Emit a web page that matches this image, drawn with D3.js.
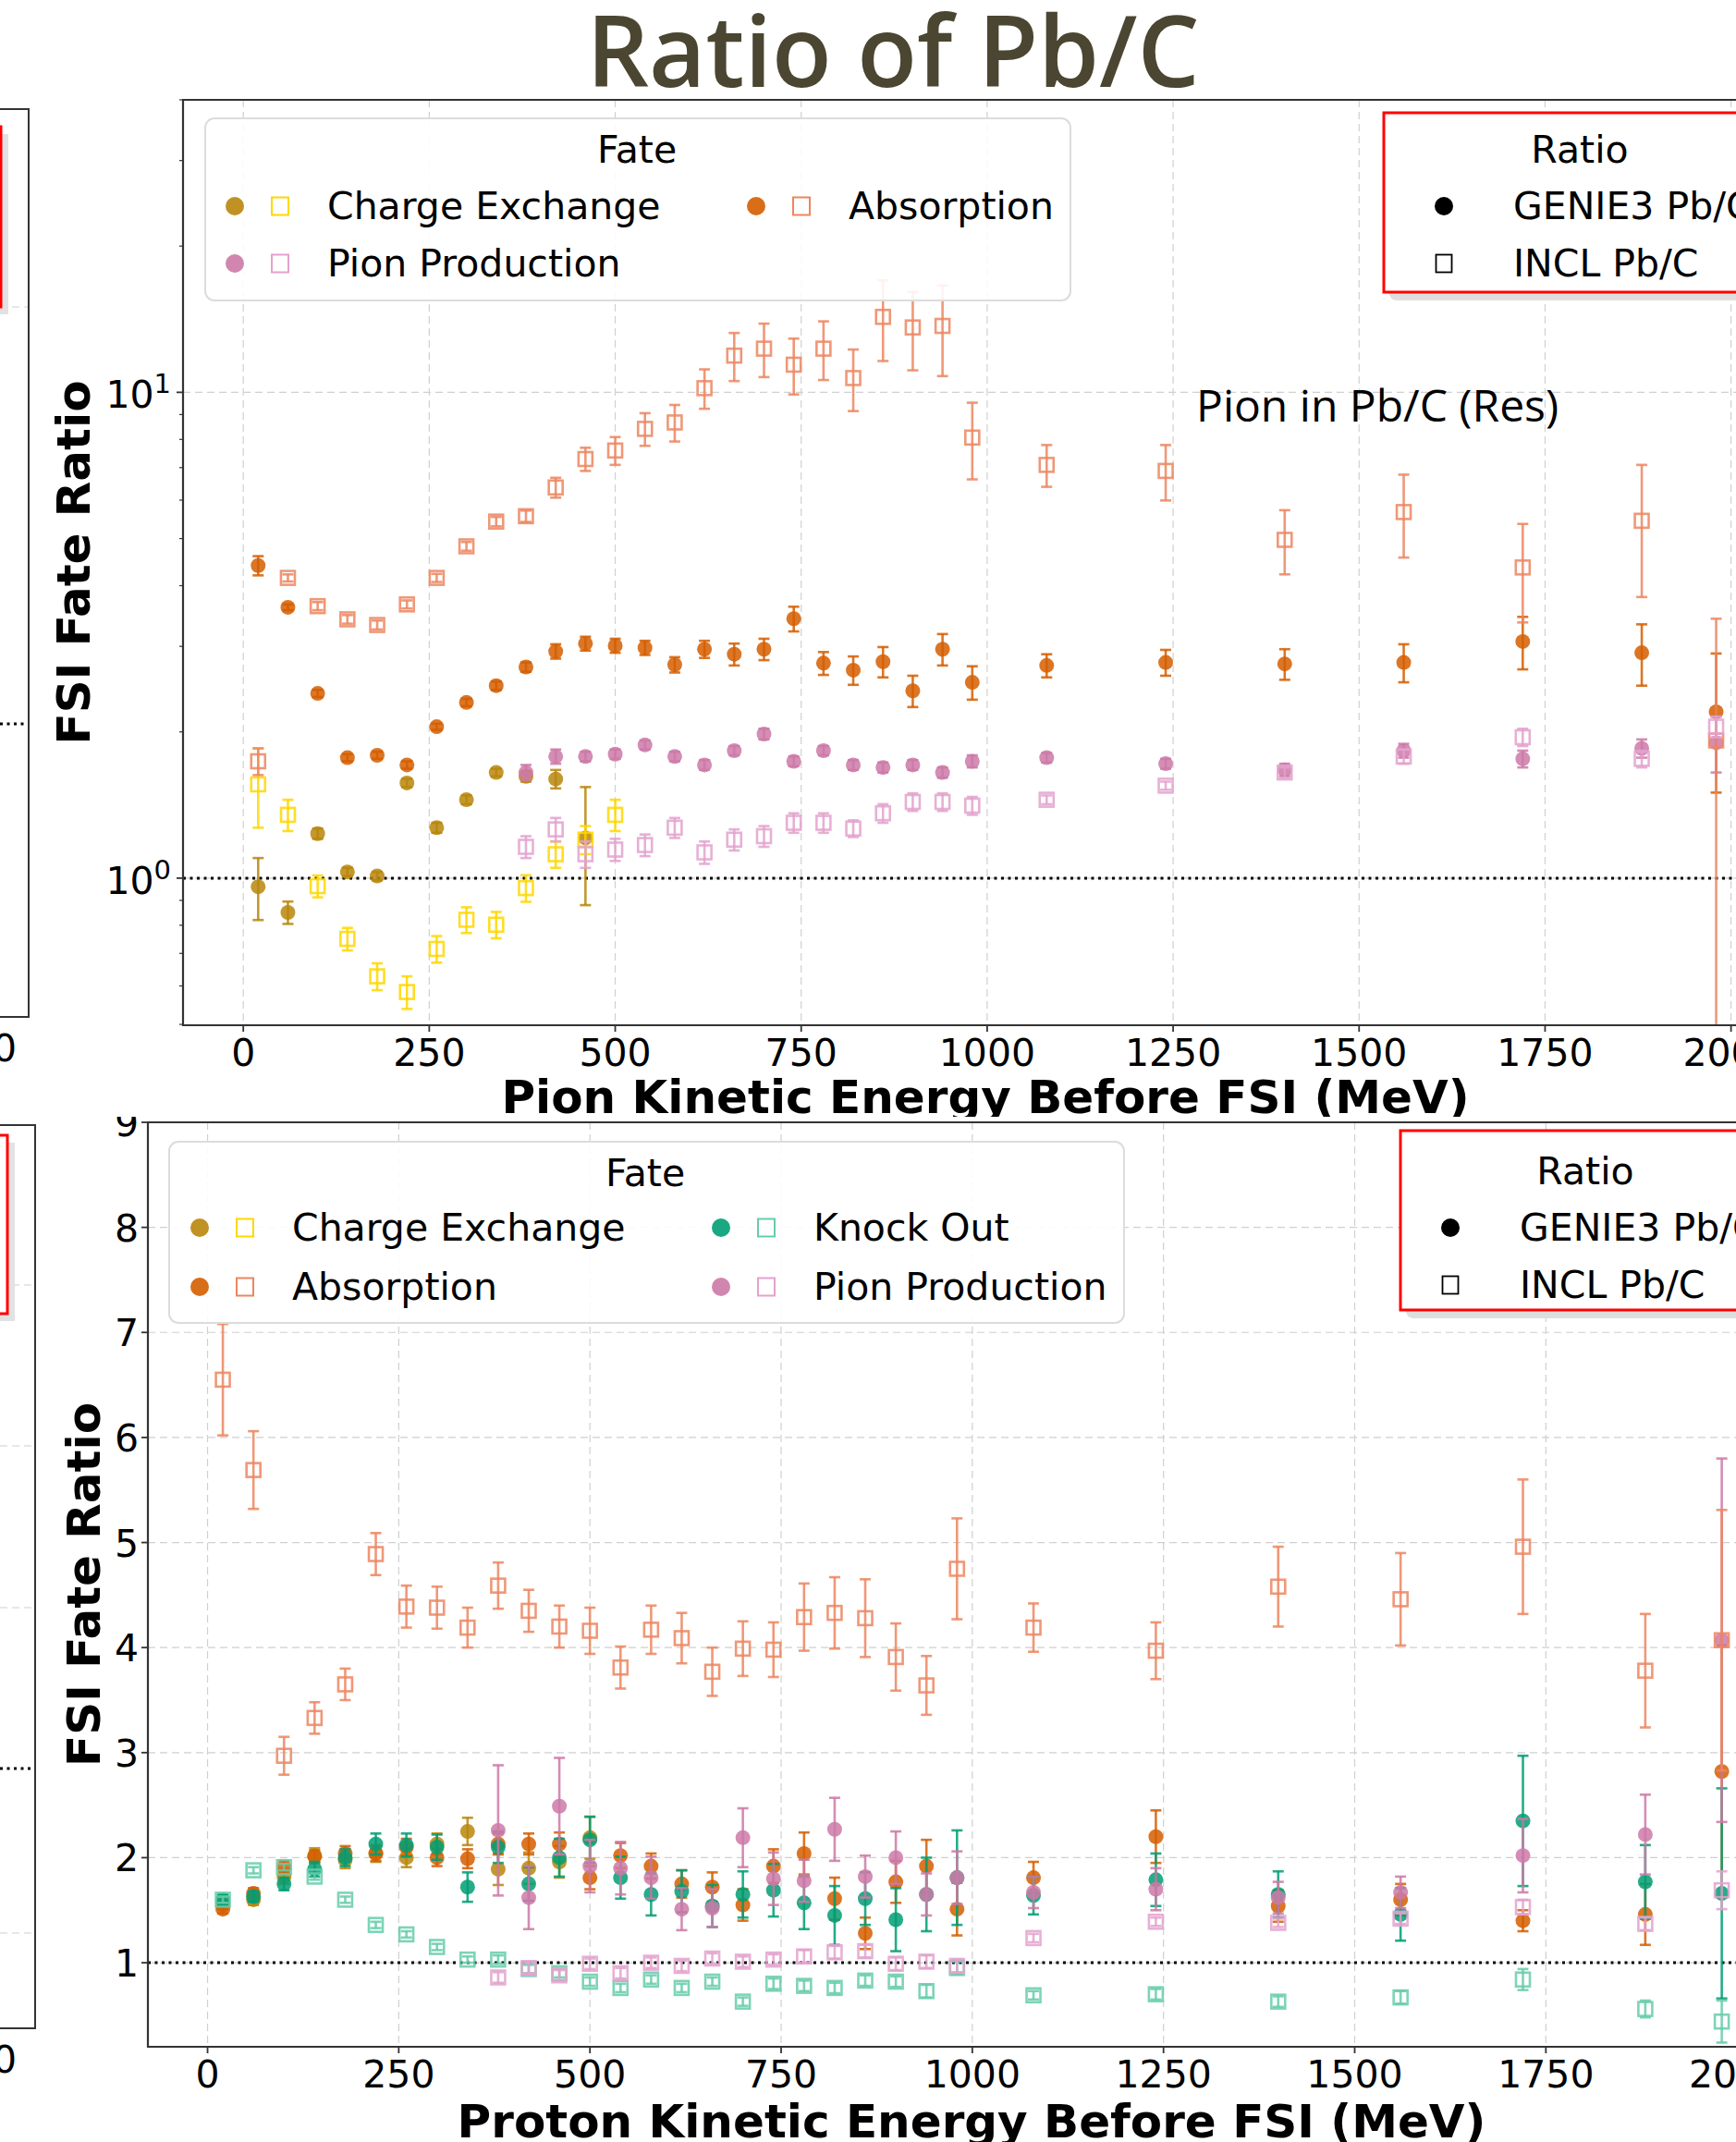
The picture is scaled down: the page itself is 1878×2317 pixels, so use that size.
<!DOCTYPE html>
<html>
<head>
<meta charset="utf-8">
<script src="https://cdn.jsdelivr.net/npm/d3@7.9.0/dist/d3.min.js"></script>
<style>
  body { margin: 0; background: #fff; }
  svg { display: block; }
  text { font-family: "DejaVu Sans", sans-serif; }
</style>
</head>
<body>
<svg id="chart" width="1878" height="2317"></svg>
<script>
// energy bins (MeV)
const pionE = [20, 60, 100, 140, 180, 220, 260, 300, 340, 380, 420, 460, 500, 540, 580, 620, 660, 700, 740, 780, 820, 860, 900, 940, 980, 1080, 1240, 1400, 1560, 1720, 1880, 1980];
const protonE = [20, 60, 100, 140, 180, 220, 260, 300, 340, 380, 420, 460, 500, 540, 580, 620, 660, 700, 740, 780, 820, 860, 900, 940, 980, 1080, 1240, 1400, 1560, 1720, 1880, 1980];

// pion (top, log axis)
const pionCexGenieE = pionE.slice(0, 12);
const pionCexGenie = [0.96, 0.85, 1.235, 1.03, 1.01, 1.57, 1.27, 1.45, 1.65, 1.62, 1.60, 1.21];
const pionCexGenieErr = [0.14, 0.045, 0.03, 0.02, 0.02, 0.03, 0.03, 0.03, 0.03, 0.04, 0.07, 0.33];
const pionCexInclE = pionE.slice(0, 13);
const pionCexIncl = [1.56, 1.35, 0.963, 0.75, 0.628, 0.583, 0.715, 0.821, 0.802, 0.954, 1.12, 1.20, 1.35];
const pionCexInclErr = [0.29, 0.1, 0.05, 0.04, 0.04, 0.045, 0.045, 0.05, 0.05, 0.06, 0.07, 0.08, 0.1];

const pionAbsGenie = [4.40, 3.61, 2.40, 1.77, 1.79, 1.71, 2.05, 2.30, 2.49, 2.72, 2.93, 3.04, 3.01, 2.98, 2.75, 2.96, 2.89, 2.96, 3.42, 2.77, 2.68, 2.79, 2.43, 2.96, 2.53, 2.74, 2.78, 2.76, 2.78, 3.07, 2.91, 2.20];
const pionAbsGenieErr = [0.2, 0.05, 0.04, 0.03, 0.03, 0.03, 0.03, 0.04, 0.05, 0.06, 0.1, 0.1, 0.1, 0.1, 0.1, 0.12, 0.15, 0.15, 0.2, 0.15, 0.18, 0.2, 0.18, 0.22, 0.2, 0.15, 0.17, 0.2, 0.25, 0.38, 0.42, 0.7];
const pionAbsIncl = [1.74, 4.15, 3.63, 3.41, 3.32, 3.66, 4.15, 4.82, 5.42, 5.56, 6.37, 7.29, 7.59, 8.41, 8.67, 10.2, 11.9, 12.3, 11.4, 12.3, 10.7, 14.3, 13.6, 13.7, 8.07, 7.09, 6.89, 4.97, 5.67, 4.36, 5.44, 1.92];
const pionAbsInclErr = [0.11, 0.07, 0.07, 0.07, 0.07, 0.07, 0.08, 0.1, 0.12, 0.15, 0.3, 0.4, 0.5, 0.65, 0.75, 0.95, 1.35, 1.55, 1.5, 1.7, 1.55, 2.7, 2.5, 2.9, 1.45, 0.7, 0.9, 0.75, 1.1, 1.0, 1.65, 1.5];

const pionPiProdE = pionE.slice(9);
const pionPiProdGenie = [1.65, 1.78, 1.78, 1.80, 1.88, 1.78, 1.71, 1.83, 1.98, 1.74, 1.83, 1.71, 1.69, 1.71, 1.65, 1.74, 1.77, 1.72, 1.67, 1.83, 1.76, 1.85, 1.90];
const pionPiProdGenieErr = [0.06, 0.06, 0.04, 0.04, 0.04, 0.04, 0.04, 0.04, 0.05, 0.04, 0.04, 0.04, 0.04, 0.04, 0.04, 0.05, 0.04, 0.04, 0.05, 0.06, 0.07, 0.08, 0.25];
const pionPiProdIncl = [1.16, 1.26, 1.12, 1.145, 1.17, 1.27, 1.13, 1.20, 1.22, 1.30, 1.30, 1.265, 1.36, 1.435, 1.435, 1.41, 1.45, 1.55, 1.65, 1.78, 1.95, 1.76, 2.05];
const pionPiProdInclErr = [0.06, 0.07, 0.07, 0.06, 0.06, 0.06, 0.06, 0.06, 0.06, 0.06, 0.06, 0.05, 0.06, 0.06, 0.06, 0.06, 0.03, 0.03, 0.04, 0.06, 0.08, 0.07, 0.1];

// proton (bottom, linear axis)
const protonCexE = protonE.slice(0, 13);
const protonCexGenie = [1.55, 1.6, 1.82, 2.02, 1.98, 2.04, 2.0, 2.13, 2.25, 1.89, 1.9, 1.96, 2.19];
const protonCexGenieErr = [0.04, 0.05, 0.07, 0.07, 0.08, 0.08, 0.09, 0.1, 0.13, 0.15, 0.15, 0.15, 0.2];

const protonAbsGenie = [1.51, 1.66, 1.91, 2.01, 2.04, 2.04, 2.10, 2.0, 1.99, 2.13, 2.13, 2.13, 1.81, 2.02, 1.92, 1.75, 1.72, 1.55, 1.92, 2.04, 1.61, 1.28, 1.77, 1.92, 1.51, 1.81, 2.20, 1.54, 1.60, 1.40, 1.46, 2.82];
const protonAbsGenieErr = [0.04, 0.05, 0.06, 0.06, 0.07, 0.07, 0.08, 0.08, 0.09, 0.1, 0.1, 0.11, 0.11, 0.12, 0.12, 0.13, 0.14, 0.15, 0.16, 0.2, 0.2, 0.15, 0.2, 0.25, 0.25, 0.15, 0.25, 0.15, 0.15, 0.1, 0.29, 1.2];
const protonAbsIncl = [6.55, 5.69, 2.97, 3.33, 3.65, 4.89, 4.39, 4.38, 4.19, 4.59, 4.35, 4.20, 4.16, 3.81, 4.17, 4.09, 3.77, 3.99, 3.98, 4.29, 4.33, 4.28, 3.91, 3.64, 4.75, 4.19, 3.97, 4.58, 4.46, 4.96, 3.78, 4.07];
const protonAbsInclErr = [0.53, 0.37, 0.18, 0.15, 0.15, 0.2, 0.2, 0.2, 0.19, 0.22, 0.2, 0.2, 0.22, 0.2, 0.23, 0.24, 0.23, 0.26, 0.26, 0.32, 0.34, 0.37, 0.32, 0.28, 0.48, 0.23, 0.27, 0.38, 0.44, 0.64, 0.54, 1.24];

const protonKoGenie = [1.6, 1.63, 1.75, 1.89, 2.0, 2.13, 2.12, 2.10, 1.72, 2.1, 1.75, 2.0, 2.17, 1.81, 1.65, 1.68, 1.54, 1.65, 1.69, 1.57, 1.45, 1.61, 1.41, 1.65, 1.81, 1.64, 1.79, 1.65, 1.46, 2.35, 1.77, 1.66];
const protonKoGenieErr = [0.05, 0.05, 0.06, 0.07, 0.08, 0.1, 0.11, 0.12, 0.14, 0.15, 0.16, 0.18, 0.22, 0.2, 0.2, 0.2, 0.2, 0.22, 0.25, 0.25, 0.28, 0.25, 0.3, 0.35, 0.45, 0.18, 0.25, 0.22, 0.25, 0.62, 0.35, 1.0];
const protonKoIncl = [1.6, 1.88, 1.91, 1.82, 1.60, 1.36, 1.27, 1.15, 1.03, 1.03, 0.94, 0.90, 0.82, 0.76, 0.84, 0.76, 0.82, 0.63, 0.80, 0.78, 0.76, 0.83, 0.82, 0.73, 0.95, 0.69, 0.70, 0.63, 0.67, 0.84, 0.56, 0.44];
const protonKoInclErr = [0.03, 0.03, 0.03, 0.03, 0.03, 0.03, 0.03, 0.03, 0.03, 0.04, 0.04, 0.04, 0.04, 0.04, 0.04, 0.04, 0.04, 0.04, 0.05, 0.05, 0.05, 0.05, 0.05, 0.06, 0.06, 0.04, 0.05, 0.05, 0.06, 0.1, 0.08, 0.2];

const protonPiProdE = protonE.slice(9);
const protonPiProdGenie = [2.26, 1.62, 2.49, 1.92, 1.90, 1.81, 1.51, 1.52, 2.19, 1.80, 1.78, 2.27, 1.82, 2.0, 1.65, 1.81, 1.67, 1.70, 1.62, 1.67, 2.02, 2.22, 4.07];
const protonPiProdGenieErr = [0.62, 0.3, 0.46, 0.25, 0.25, 0.2, 0.2, 0.18, 0.28, 0.25, 0.2, 0.3, 0.2, 0.25, 0.2, 0.25, 0.15, 0.2, 0.15, 0.15, 0.35, 0.38, 1.73];
const protonPiProdIncl = [0.86, 0.95, 0.88, 0.99, 0.90, 1.0, 0.97, 1.04, 1.01, 1.03, 1.06, 1.10, 1.11, 0.99, 1.01, 0.97, 1.235, 1.39, 1.38, 1.42, 1.53, 1.37, 1.69];
const protonPiProdInclErr = [0.05, 0.05, 0.05, 0.05, 0.05, 0.05, 0.05, 0.05, 0.05, 0.05, 0.06, 0.06, 0.06, 0.06, 0.06, 0.06, 0.04, 0.04, 0.04, 0.05, 0.07, 0.06, 0.18];

const xTicks = [0, 250, 500, 750, 1000, 1250, 1500, 1750, 2000];
const protonYTicks = [1, 2, 3, 4, 5, 6, 7, 8, 9];

const colors = {
  cex: { genie: '#B8860B', incl: '#FFD700' },
  abs: { genie: '#D55E00', incl: '#EC8660' },
  ko:  { genie: '#009E73', incl: '#66CDAA' },
  pi:  { genie: '#CC79A7', incl: '#E3A2CE' }
};

const W = 1878, H = 2317;
const svg = d3.select('#chart');
svg.append('rect').attr('width', W).attr('height', H).attr('fill', '#fff');

const defs = svg.append('defs');
function addClip(id, x, y, w, h) {
  defs.append('clipPath').attr('id', id)
    .append('rect').attr('x', x).attr('y', y).attr('width', w).attr('height', h);
}
addClip('topImg', 0, 0, W, 1208);
addClip('botImg', 0, 1208, W, H - 1208);

// title
svg.append('text')
  .attr('x', 966).attr('y', 94)
  .attr('text-anchor', 'middle')
  .style('font-family', '"Open Sans", sans-serif')
  .style('font-weight', 600)
  .style('font-size', '106px')
  .attr('fill', '#4B4631')
  .text('Ratio of Pb/C');

// pieces of neighbouring panels cut off at the left edge
function partialPanel(g, top, bottom, right, redTop, redBot, grids, dotY, zeroY) {
  grids.forEach(gy => {
    g.append('line').attr('x1', 0).attr('x2', right).attr('y1', gy).attr('y2', gy)
      .attr('stroke', '#d0d0d0').attr('stroke-width', 1.2).attr('stroke-dasharray', '8,5');
  });
  g.append('line').attr('x1', 0).attr('x2', right).attr('y1', dotY).attr('y2', dotY)
    .attr('stroke', '#000').attr('stroke-width', 3).attr('stroke-dasharray', '3,4.5');
  g.append('rect').attr('x', -10).attr('y', redTop + 8).attr('width', right - 12).attr('height', redBot - redTop)
    .attr('fill', '#e2e2e2');
  g.append('rect').attr('x', -10).attr('y', redTop).attr('width', right - 20).attr('height', redBot - redTop)
    .attr('fill', '#fff').attr('stroke', '#f00').attr('stroke-width', 3);
  g.append('path').attr('d', `M0,${top}H${right}V${bottom}H0`)
    .attr('fill', 'none').attr('stroke', '#333').attr('stroke-width', 2);
  g.append('text').attr('x', 5).attr('y', zeroY).attr('text-anchor', 'middle')
    .style('font-size', '41px').text('0');
}
partialPanel(svg.append('g').attr('clip-path', 'url(#topImg)'), 118, 1100, 31, 137, 332, [332], 783, 1148);
partialPanel(svg.append('g').attr('clip-path', 'url(#botImg)'), 1217, 2194, 38, 1228, 1421, [1390, 1564, 1739, 2091], 1913, 2242);

function drawSeries(g, x, y, xs, vals, errs, color, kind, yMin) {
  const pts = xs.map((e, i) => ({ e: e, v: vals[i], s: errs[i] }));
  const eb = g.append('g').attr('stroke', color).attr('stroke-opacity', 0.85).attr('stroke-width', 2.6);
  pts.forEach(p => {
    let lo = Math.max(p.v - p.s, yMin);
    let hi = p.v + p.s;
    let cx = x(p.e);
    eb.append('line').attr('x1', cx).attr('x2', cx).attr('y1', y(lo)).attr('y2', y(hi));
    eb.append('line').attr('x1', cx - 6).attr('x2', cx + 6).attr('y1', y(hi)).attr('y2', y(hi));
    if (p.v - p.s > yMin) {
      eb.append('line').attr('x1', cx - 6).attr('x2', cx + 6).attr('y1', y(lo)).attr('y2', y(lo));
    }
  });
  if (kind === 'genie') {
    g.selectAll(null).data(pts).join('circle')
      .attr('cx', d => x(d.e)).attr('cy', d => y(d.v)).attr('r', 8)
      .attr('fill', color).attr('fill-opacity', 0.85);
  } else {
    g.selectAll(null).data(pts).join('rect')
      .attr('x', d => x(d.e) - 7.5).attr('y', d => y(d.v) - 7.5)
      .attr('width', 15).attr('height', 15)
      .attr('fill', 'none').attr('stroke', color).attr('stroke-opacity', 0.85).attr('stroke-width', 2.6);
  }
}

function drawPanel(cfg) {
  const g = svg.append('g').attr('clip-path', `url(#${cfg.clip})`);
  const x = d3.scaleLinear().domain(cfg.xDomain).range([cfg.left, cfg.right]);
  const y = cfg.y;
  const plotId = cfg.clip + 'Plot';
  addClip(plotId, cfg.left, cfg.top, cfg.right - cfg.left, cfg.bottom - cfg.top);

  // grid
  const grid = g.append('g').attr('stroke', '#d0d0d0').attr('stroke-width', 1.2).attr('stroke-dasharray', '8,5');
  xTicks.forEach(t => grid.append('line').attr('x1', x(t)).attr('x2', x(t)).attr('y1', cfg.top).attr('y2', cfg.bottom));
  cfg.yGrid.forEach(t => grid.append('line').attr('x1', cfg.left).attr('x2', cfg.right).attr('y1', y(t)).attr('y2', y(t)));

  // reference line at ratio 1
  g.append('line').attr('x1', cfg.left).attr('x2', cfg.right).attr('y1', y(1)).attr('y2', y(1))
    .attr('stroke', '#000').attr('stroke-width', 3).attr('stroke-dasharray', '3,4.5');

  const data = g.append('g').attr('clip-path', `url(#${plotId})`);
  cfg.series.forEach(s => drawSeries(data, x, y, s[0], s[1], s[2], s[3], s[4], cfg.yMin));

  // spines
  g.append('path').attr('d', `M${W},${cfg.top}H${cfg.left}V${cfg.bottom}H${W}`)
    .attr('fill', 'none').attr('stroke', '#333').attr('stroke-width', 2.2);

  // x ticks
  xTicks.forEach(t => {
    g.append('line').attr('x1', x(t)).attr('x2', x(t)).attr('y1', cfg.bottom).attr('y2', cfg.bottom + 7)
      .attr('stroke', '#333').attr('stroke-width', 1.8);
    g.append('text').attr('x', x(t)).attr('y', cfg.bottom + 44).attr('text-anchor', 'middle')
      .style('font-size', '41px').text(t);
  });
  // y ticks
  cfg.yTicks.forEach(t => {
    g.append('line').attr('x1', cfg.left - 7).attr('x2', cfg.left).attr('y1', y(t)).attr('y2', y(t))
      .attr('stroke', '#333').attr('stroke-width', 1.8);
  });
  (cfg.yMinor || []).forEach(t => {
    g.append('line').attr('x1', cfg.left - 4).attr('x2', cfg.left).attr('y1', y(t)).attr('y2', y(t))
      .attr('stroke', '#333').attr('stroke-width', 1.2);
  });
  cfg.yLabels(g, y);

  g.append('text').attr('x', cfg.xLabelX).attr('y', cfg.xLabelY).attr('text-anchor', 'middle')
    .style('font-size', '50px').style('font-weight', 'bold').text(cfg.xLabel);
  g.append('text').attr('transform', `translate(${cfg.yLabelX},${(cfg.top + cfg.bottom) / 2}) rotate(-90)`)
    .attr('text-anchor', 'middle')
    .style('font-size', '50px').style('font-weight', 'bold').text('FSI Fate Ratio');
  return g;
}

function legendMarker(g, cx, cy, color, kind) {
  if (kind === 'genie') {
    g.append('circle').attr('cx', cx).attr('cy', cy).attr('r', 10).attr('fill', color).attr('fill-opacity', 0.9);
  } else {
    g.append('rect').attr('x', cx - 9).attr('y', cy - 9.5).attr('width', 18).attr('height', 19)
      .attr('fill', 'none').attr('stroke', color).attr('stroke-width', 2);
  }
}

function fateLegend(g, box, titleX, entries) {
  g.append('rect').attr('x', box[0]).attr('y', box[1]).attr('width', box[2] - box[0]).attr('height', box[3] - box[1])
    .attr('rx', 10).attr('fill', '#fff').attr('fill-opacity', 0.88).attr('stroke', '#dcdcdc').attr('stroke-width', 2);
  g.append('text').attr('x', titleX).attr('y', box[1] + 48).attr('text-anchor', 'middle')
    .style('font-size', '41px').text('Fate');
  entries.forEach(e => {
    legendMarker(g, e.x, e.y, colors[e.key].genie, 'genie');
    legendMarker(g, e.x + 49, e.y, colors[e.key].incl, 'incl');
    g.append('text').attr('x', e.x + 100).attr('y', e.y + 14).style('font-size', '41px').text(e.label);
  });
}

function ratioLegend(g, box, titleX, titleY, markX, rows) {
  g.append('rect').attr('x', box[0] + 6).attr('y', box[1] + 9).attr('width', 500).attr('height', box[2] - box[1])
    .attr('rx', 8).attr('fill', '#dedede');
  g.append('rect').attr('x', box[0]).attr('y', box[1]).attr('width', 500).attr('height', box[2] - box[1])
    .attr('fill', '#fff').attr('stroke', '#f00').attr('stroke-width', 3);
  g.append('text').attr('x', titleX).attr('y', titleY + 14).attr('text-anchor', 'middle')
    .style('font-size', '41px').text('Ratio');
  g.append('circle').attr('cx', markX).attr('cy', rows[0]).attr('r', 10).attr('fill', '#000');
  g.append('rect').attr('x', markX - 8.5).attr('y', rows[1] - 9.5).attr('width', 17).attr('height', 19)
    .attr('fill', 'none').attr('stroke', '#000').attr('stroke-width', 1.8);
  g.append('text').attr('x', markX + 75).attr('y', rows[0] + 14).style('font-size', '41px').text('GENIE3 Pb/C');
  g.append('text').attr('x', markX + 75).attr('y', rows[1] + 14).style('font-size', '41px').text('INCL Pb/C');
}

// ---- top panel: pion, log scale
const yTop = d3.scaleLog().domain([0.498, 40]).range([1109, 108]);
const topG = drawPanel({
  clip: 'topImg', left: 198, right: 1937, top: 108, bottom: 1109,
  xDomain: [-81, 2080], y: yTop, yMin: 0.2,
  yGrid: [1, 10], yTicks: [1, 10],
  yMinor: [0.5, 0.6, 0.7, 0.8, 0.9, 2, 3, 4, 5, 6, 7, 8, 9, 20, 30, 40],
  yLabels: (g, y) => {
    [[10, '1'], [1, '0']].forEach(([v, p]) => {
      let t = g.append('text').attr('x', 185).attr('y', y(v) + 17).attr('text-anchor', 'end').style('font-size', '41px');
      t.append('tspan').text('10');
      t.append('tspan').attr('dy', -16).style('font-size', '29px').text(p);
    });
  },
  xLabel: 'Pion Kinetic Energy Before FSI (MeV)', xLabelX: 1066, xLabelY: 1204,
  yLabelX: 97,
  series: [
    [pionCexGenieE, pionCexGenie, pionCexGenieErr, colors.cex.genie, 'genie'],
    [pionE, pionAbsGenie, pionAbsGenieErr, colors.abs.genie, 'genie'],
    [pionPiProdE, pionPiProdGenie, pionPiProdGenieErr, colors.pi.genie, 'genie'],
    [pionCexInclE, pionCexIncl, pionCexInclErr, colors.cex.incl, 'incl'],
    [pionE, pionAbsIncl, pionAbsInclErr, colors.abs.incl, 'incl'],
    [pionPiProdE, pionPiProdIncl, pionPiProdInclErr, colors.pi.incl, 'incl']
  ]
});
topG.append('text').attr('x', 1294).attr('y', 456)
  .style('font-family', '"Open Sans", sans-serif').style('font-size', '48px')
  .text('Pion in Pb/C (Res)');
fateLegend(topG, [222, 128, 1158, 325], 689, [
  { key: 'cex', label: 'Charge Exchange', x: 254, y: 223 },
  { key: 'pi', label: 'Pion Production', x: 254, y: 285 },
  { key: 'abs', label: 'Absorption', x: 818, y: 223 }
]);
ratioLegend(topG, [1497, 122, 316], 1709, 162, 1562, [223, 285]);

// ---- bottom panel: proton, linear scale
const yBot = d3.scaleLinear().domain([0.2, 9]).range([2214, 1214]);
const botG = drawPanel({
  clip: 'botImg', left: 160, right: 1947, top: 1214, bottom: 2214,
  xDomain: [-78, 2082], y: yBot, yMin: 0.0,
  yGrid: protonYTicks, yTicks: protonYTicks,
  yLabels: (g, y) => {
    protonYTicks.forEach(v => {
      g.append('text').attr('x', 150).attr('y', y(v) + 15).attr('text-anchor', 'end')
        .style('font-size', '41px').text(v);
    });
  },
  xLabel: 'Proton Kinetic Energy Before FSI (MeV)', xLabelX: 1051, xLabelY: 2312,
  yLabelX: 108,
  series: [
    [protonCexE, protonCexGenie, protonCexGenieErr, colors.cex.genie, 'genie'],
    [protonE, protonAbsGenie, protonAbsGenieErr, colors.abs.genie, 'genie'],
    [protonE, protonKoGenie, protonKoGenieErr, colors.ko.genie, 'genie'],
    [protonPiProdE, protonPiProdGenie, protonPiProdGenieErr, colors.pi.genie, 'genie'],
    [protonE, protonAbsIncl, protonAbsInclErr, colors.abs.incl, 'incl'],
    [protonE, protonKoIncl, protonKoInclErr, colors.ko.incl, 'incl'],
    [protonPiProdE, protonPiProdIncl, protonPiProdInclErr, colors.pi.incl, 'incl']
  ]
});
fateLegend(botG, [183, 1235, 1216, 1431], 698, [
  { key: 'cex', label: 'Charge Exchange', x: 216, y: 1328 },
  { key: 'abs', label: 'Absorption', x: 216, y: 1392 },
  { key: 'ko', label: 'Knock Out', x: 780, y: 1328 },
  { key: 'pi', label: 'Pion Production', x: 780, y: 1392 }
]);
ratioLegend(botG, [1515, 1223, 1417], 1715, 1267, 1569, [1328, 1390]);
</script>
</body>
</html>
